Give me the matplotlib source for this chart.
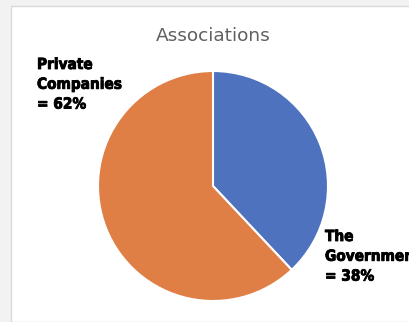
import matplotlib
matplotlib.use("Agg")
import matplotlib.pyplot as plt
import matplotlib.patheffects as pe
from matplotlib.patches import Rectangle

categories = ["The Government", "Private Companies"]
values = [38, 62]
colors = ["#4f72be", "#e07f45"]
title = "Associations"

fig = plt.figure(figsize=(4.09, 3.22), dpi=100)
fig.patch.set_facecolor("#f2f2f2")
fig.patches.append(Rectangle((11/409, 0/322), 1.0, (322-6)/322, transform=fig.transFigure,
                             facecolor="white", edgecolor="#d9d9d9", linewidth=1.0, zorder=-5))

W, H = 409, 322
cx, cy, r = 213, 186, 115
ax = fig.add_axes([(cx - r)/W, 1 - (cy + r)/H, 2*r/W, 2*r/H])
ax.set_zorder(2)
ax.patch.set_alpha(0)
ax.pie(values, colors=colors, startangle=90, counterclock=False,
       wedgeprops=dict(edgecolor="white", linewidth=1.5))
ax.set_aspect("equal")
ax.set_xlim(-1, 1); ax.set_ylim(-1, 1)
ax.axis("off")

fig.text(213/W, 1 - 36/H, title, ha="center", va="center", fontsize=13.3, color="#606060")

lab_kw = dict(fontsize=11, fontweight="bold", fontstretch="condensed", color="black",
              family="DejaVu Sans", linespacing=1.4,
              path_effects=[pe.withStroke(linewidth=0.6, foreground="black")])
fig.text(37/W, 1 - 57/H, "Private\nCompanies\n= %d%%" % values[1], ha="left", va="top", **lab_kw)
fig.text(325/W, 1 - 229/H, "The\nGovernment\n= %d%%" % values[0], ha="left", va="top", **lab_kw)

fig.savefig("out.png", dpi=100)
